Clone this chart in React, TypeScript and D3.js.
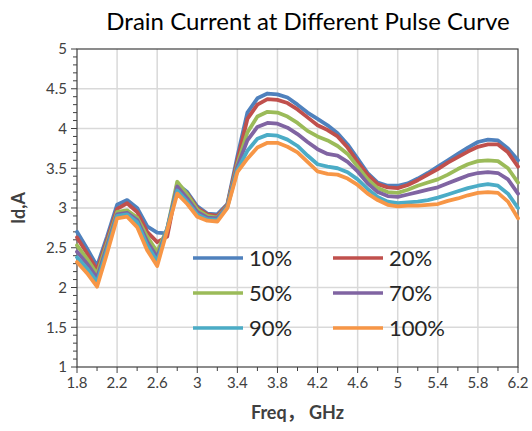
import React from "react";
import * as d3 from "d3";

const freq = [1.8,1.9,2.0,2.1,2.2,2.3,2.4,2.5,2.6,2.7,2.8,2.9,3.0,3.1,3.2,3.3,3.4,3.5,3.6,3.7,3.8,3.9,4.0,4.1,4.2,4.3,4.4,4.5,4.6,4.7,4.8,4.9,5.0,5.1,5.2,5.3,5.4,5.5,5.6,5.7,5.8,5.9,6.0,6.1,6.2];

const s10 = [2.70,2.49,2.27,2.64,3.04,3.10,3.00,2.77,2.69,2.68,3.30,3.20,3.02,2.93,2.92,3.05,3.65,4.20,4.38,4.44,4.43,4.39,4.30,4.20,4.12,4.04,3.94,3.80,3.62,3.44,3.32,3.28,3.28,3.31,3.37,3.44,3.52,3.60,3.68,3.76,3.83,3.86,3.85,3.75,3.60];
const s20 = [2.63,2.43,2.22,2.60,2.99,3.06,2.95,2.70,2.57,2.64,3.28,3.18,3.00,2.92,2.90,3.04,3.60,4.12,4.30,4.37,4.36,4.32,4.24,4.14,4.04,3.98,3.90,3.76,3.58,3.42,3.30,3.26,3.25,3.29,3.35,3.42,3.49,3.57,3.64,3.71,3.77,3.80,3.80,3.70,3.52];
const s50 = [2.53,2.36,2.17,2.56,2.95,2.97,2.88,2.64,2.45,2.74,3.33,3.17,2.98,2.90,2.88,3.03,3.55,3.95,4.15,4.21,4.20,4.15,4.07,3.97,3.90,3.85,3.78,3.68,3.52,3.36,3.25,3.20,3.19,3.23,3.28,3.32,3.36,3.42,3.49,3.55,3.59,3.60,3.59,3.50,3.32];
const s70 = [2.45,2.30,2.12,2.52,2.92,2.94,2.85,2.58,2.38,2.74,3.27,3.12,2.95,2.88,2.87,3.02,3.52,3.85,4.02,4.07,4.06,4.01,3.93,3.83,3.74,3.68,3.66,3.58,3.46,3.31,3.20,3.15,3.14,3.17,3.20,3.23,3.26,3.31,3.36,3.41,3.44,3.45,3.44,3.36,3.18];
const s90 = [2.38,2.24,2.07,2.48,2.90,2.92,2.82,2.53,2.33,2.74,3.22,3.08,2.92,2.86,2.85,3.01,3.48,3.72,3.87,3.92,3.91,3.86,3.78,3.66,3.55,3.52,3.50,3.45,3.36,3.24,3.14,3.08,3.06,3.07,3.08,3.10,3.13,3.17,3.21,3.25,3.28,3.30,3.28,3.18,3.00];
const s100 = [2.32,2.18,2.01,2.43,2.87,2.89,2.76,2.47,2.27,2.72,3.18,3.05,2.89,2.84,2.83,3.00,3.45,3.62,3.76,3.82,3.82,3.77,3.70,3.58,3.46,3.43,3.42,3.37,3.29,3.18,3.10,3.04,3.02,3.03,3.03,3.04,3.05,3.09,3.12,3.16,3.19,3.20,3.19,3.08,2.87];

const seriesNames = ["10%", "20%", "50%", "70%", "90%", "100%"];
const seriesValues = [s10, s20, s50, s70, s90, s100];
const seriesColors = ["#4F81BD", "#C0504D", "#9BBB59", "#8064A2", "#4BACC6", "#F79646"];

const xTickValues = [1.8, 2.2, 2.6, 3.0, 3.4, 3.8, 4.2, 4.6, 5.0, 5.4, 5.8, 6.2];
const xTickLabels = ["1.8", "2.2", "2.6", "3", "3.4", "3.8", "4.2", "4.6", "5", "5.4", "5.8", "6.2"];
const yTickValues = [1, 1.5, 2, 2.5, 3, 3.5, 4, 4.5, 5];
const yTickLabels = ["1", "1.5", "2", "2.5", "3", "3.5", "4", "4.5", "5"];

const title = "Drain Current at Different Pulse Curve";
const xTitle = "Freq\uFF0C GHz";
const yTitle = "Id,A";

const W = 532, H = 431;
const left = 77, right = 518, top = 49, bottom = 367;
const FONT = "Lato, 'Noto Sans', 'Noto Sans CJK SC', sans-serif";

export default function App() {
  const x = d3.scaleLinear().domain([1.8, 6.2]).range([left, right]);
  const y = d3.scaleLinear().domain([1, 5]).range([bottom, top]);
  const line = d3.line<number>().x((_, i) => x(freq[i])).y((d) => y(d));

  const xMinor = d3.range(0, 23).map((i) => 1.8 + i * 0.2);
  const yMinor = d3.range(0, 41).map((i) => 1 + i * 0.1);

  const legendRows = [258, 293, 328];
  const legendCols = [193, 333];

  return (
    <svg width={W} height={H} style={{ position: "absolute", left: 0, top: 0, background: "#fff" }} fontFamily={FONT}>
      <rect x={0} y={0} width={W} height={H} fill="#fff" />
      <text x={308} y={30} textAnchor="middle" fontSize={24} fill="#000">{title}</text>

      {/* gridlines */}
      {xTickValues.slice(1, -1).map((v) => (
        <line key={"gx" + v} x1={x(v)} x2={x(v)} y1={top} y2={bottom} stroke="#d9d9d9" strokeWidth={1.5} />
      ))}
      {yTickValues.slice(1, -1).map((v) => (
        <line key={"gy" + v} x1={left} x2={right} y1={y(v)} y2={y(v)} stroke="#d9d9d9" strokeWidth={1.5} />
      ))}

      {/* plot border */}
      <rect x={left} y={top} width={right - left} height={bottom - top} fill="none" stroke="#404040" strokeWidth={1.2} />

      {/* y ticks */}
      {yMinor.map((v, i) => (
        <line key={"ym" + i} x1={left - (i % 5 === 0 ? 6 : 4)} x2={left} y1={y(v)} y2={y(v)} stroke="#404040" strokeWidth={1} />
      ))}
      {yTickValues.map((v, i) => (
        <text key={"yl" + v} x={left - 10} y={y(v)} dy="0.35em" textAnchor="end" fontSize={15} fill="#404040">{yTickLabels[i]}</text>
      ))}

      {/* x ticks */}
      {xMinor.map((v, i) => (
        <line key={"xm" + i} x1={x(v)} x2={x(v)} y1={bottom} y2={bottom + (i % 2 === 0 ? 6 : 4)} stroke="#404040" strokeWidth={1} />
      ))}
      {xTickValues.map((v, i) => (
        <text key={"xl" + v} x={x(v)} y={bottom + 21} textAnchor="middle" fontSize={15} fill="#404040">{xTickLabels[i]}</text>
      ))}

      {/* series */}
      {seriesValues.map((vals, i) => (
        <path key={"s" + i} d={line(vals) || ""} fill="none" stroke={seriesColors[i]} strokeWidth={3.8} strokeLinejoin="round" strokeLinecap="round" />
      ))}

      {/* legend */}
      {seriesNames.map((name, i) => {
        const ry = legendRows[Math.floor(i / 2)];
        const cx = legendCols[i % 2];
        return (
          <g key={"lg" + i}>
            <line x1={cx} x2={cx + 50} y1={ry} y2={ry} stroke={seriesColors[i]} strokeWidth={3.5} />
            <text x={cx + 56} y={ry} dy="0.36em" fontSize={22} fill="#262626">{name}</text>
          </g>
        );
      })}

      {/* axis titles */}
      <text x={x(4.0)} y={419} textAnchor="middle" fontSize={18} fontWeight="bold" fill="#404040">{xTitle}</text>
      <text transform={`translate(25, ${y(3)}) rotate(-90)`} textAnchor="middle" fontSize={18} fontWeight="bold" fill="#404040">{yTitle}</text>
    </svg>
  );
}
